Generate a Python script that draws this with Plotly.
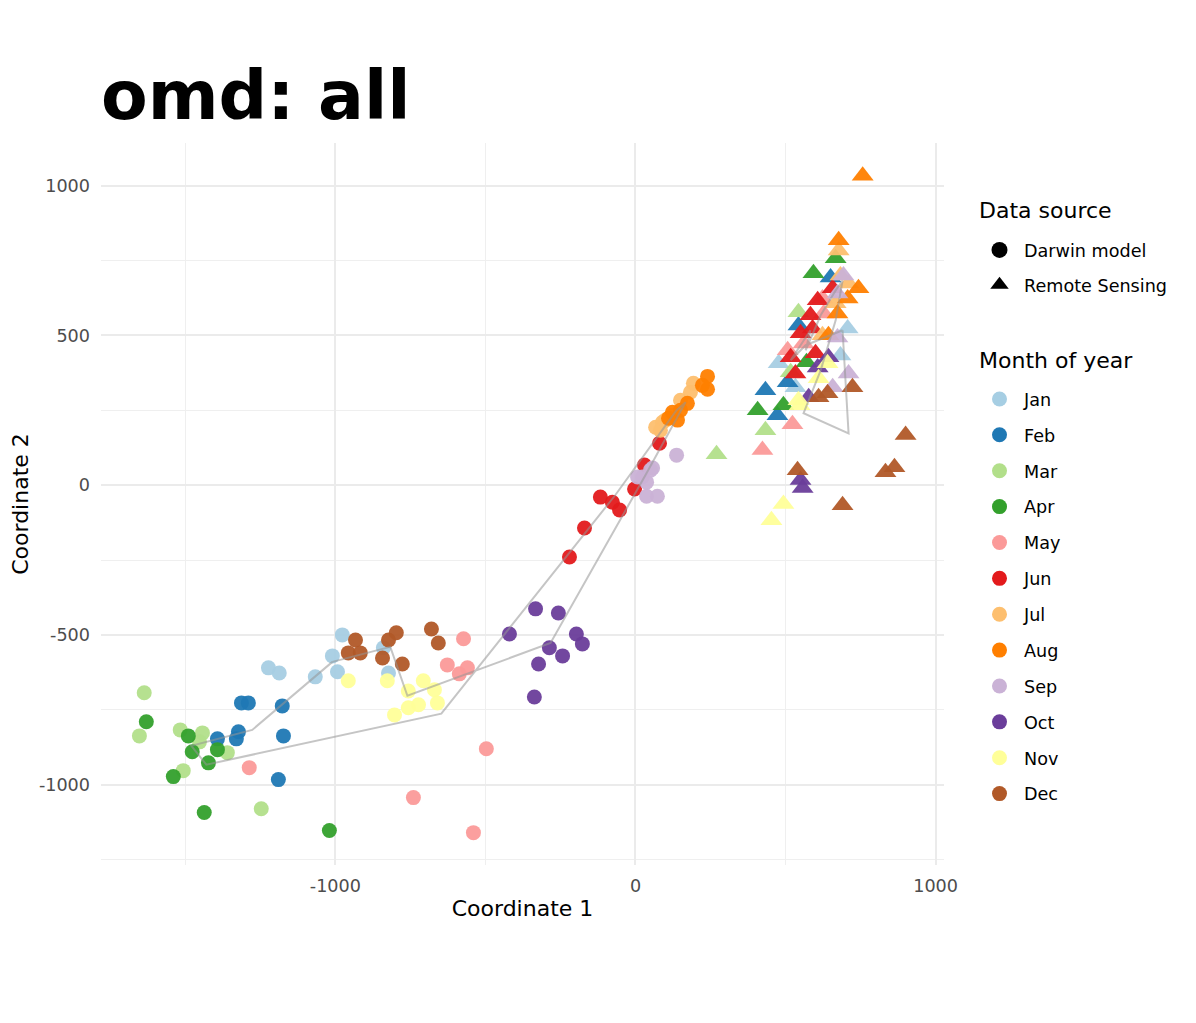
"""
omd: all -- ordination of Darwin model vs Remote Sensing by month
"""

import plotly.graph_objects as go

# Month levels and palette (ColorBrewer Paired)
MONTHS = ['Jan', 'Feb', 'Mar', 'Apr', 'May', 'Jun',
          'Jul', 'Aug', 'Sep', 'Oct', 'Nov', 'Dec']
MONTH_COLORS = ['#A6CEE3', '#1F78B4', '#B2DF8A', '#33A02C', '#FB9A99', '#E31A1C',
                '#FDBF6F', '#FF7F00', '#CAB2D6', '#6A3D9A', '#FFFF99', '#B15928']

# Darwin model points (circles)
darwin_month = (['Jan'] * 8 + ['Feb'] * 8 + ['Mar'] * 8 + ['Apr'] * 8 + ['May'] * 8 + ['Jun'] * 8
                + ['Jul'] * 8 + ['Aug'] * 8 + ['Sep'] * 8 + ['Oct'] * 9 + ['Nov'] * 9 + ['Dec'] * 9)
darwin_x = [-1223, -1187, -1067, -1010, -993, -977, -840, -823,
            -1313, -1290, -1177, -1173, -1190, -1393, -1323, -1330,
            -1637, -1653, -1517, -1443, -1453, -1360, -1507, -1247,
            -1630, -1490, -1477, -1393, -1423, -1540, -1437, -1020,
            -1287, -740, -540, -497, -573, -627, -587, -560,
            -220, -170, -117, -77, -53, -3, 30, 80,
            67, 90, 83, 123, 150, 183, 193, 100,
            123, 140, 173, 240, 240, 223, 150, 110,
            23, 57, 37, 37, 73, 137, 7, 50,
            -420, -333, -257, -197, -177, -287, -243, -323, -337,
            -957, -827, -757, -707, -670, -660, -723, -757, -803,
            -933, -957, -917, -823, -797, -843, -777, -680, -657]
darwin_y = [-610, -627, -640, -570, -623, -500, -543, -627,
            -727, -727, -737, -837, -983, -847, -823, -847,
            -693, -837, -817, -827, -857, -893, -953, -1080,
            -790, -837, -890, -883, -927, -973, -1093, -1153,
            -943, -1043, -1160, -880, -513, -600, -630, -610,
            -240, -143, -40, -57, -83, -13, 67, 140,
            193, 210, 183, 233, 283, 310, 340, 217,
            243, 217, 273, 363, 320, 333, 250, 223,
            27, 57, 10, -37, -37, 100, 27, 50,
            -497, -413, -427, -497, -530, -543, -570, -597, -707,
            -653, -653, -687, -653, -683, -727, -733, -743, -767,
            -517, -560, -560, -517, -493, -577, -597, -480, -527]

# Remote Sensing points (triangles)
rs_month = (['Jan'] * 4 + ['Feb'] * 5 + ['Mar'] * 4 + ['Apr'] * 5 + ['May'] * 6 + ['Jun'] * 8
            + ['Jul'] * 5 + ['Aug'] * 6 + ['Sep'] * 5 + ['Oct'] * 5 + ['Nov'] * 6 + ['Dec'] * 8)
rs_x = [477, 707, 683, 533,
        433, 473, 650, 543, 507,
        433, 270, 543, 517,
        407, 493, 570, 593, 667,
        423, 523, 560, 627, 623, 507,
        607, 583, 590, 600, 533, 550, 657, 517,
        677, 683, 710, 623, 667,
        757, 677, 743, 707, 673, 643,
        693, 673, 673, 710, 657,
        607, 643, 577, 550, 557,
        547, 493, 453, 610, 640, 543,
        723, 610, 640, 900, 863, 833, 540, 690]
rs_y = [407, 523, 433, 327,
        317, 233, 693, 533, 343,
        183, 103, 577, 377,
        250, 267, 410, 707, 757,
        117, 203, 473, 573, 623, 450,
        617, 567, 523, 440, 373, 507, 657, 427,
        783, 700, 673, 500, 607,
        1033, 817, 657, 623, 573, 500,
        700, 640, 493, 373, 327,
        393, 427, 293, 17, -10,
        267, -63, -117, 357, 407, 283,
        327, 293, 307, 167, 60, 43, 50, -67]

# Monthly centroid paths (Jan..Dec, closed back to Jan)
darwin_path_x = [-1010, -1277, -1480, -1430, -647, -67, 137, 167, 33, -283, -760, -817, -1010]
darwin_path_y = [-590, -817, -870, -933, -763, -33, 250, 277, 33, -527, -703, -540, -590]
rs_path_x = [690, 567, 517, 583, 567, 617, 667, 690, 667, 617, 560, 710, 690]
rs_path_y = [517, 467, 417, 517, 450, 567, 650, 683, 550, 383, 240, 173, 517]

FONT = 'DejaVu Sans'
color_of = dict(zip(MONTHS, MONTH_COLORS))

fig = go.Figure()

# points
fig.add_trace(go.Scatter(
    x=darwin_x, y=darwin_y, mode='markers',
    marker=dict(symbol='circle', size=15, color=[color_of[m] for m in darwin_month],
                opacity=0.95, line=dict(width=0)),
    showlegend=False, hoverinfo='skip'
))
fig.add_trace(go.Scatter(
    x=rs_x, y=rs_y, mode='markers',
    marker=dict(symbol='triangle-up', size=19, color=[color_of[m] for m in rs_month],
                opacity=0.95, line=dict(width=0)),
    showlegend=False, hoverinfo='skip'
))

# paths on top
for px, py in [(darwin_path_x, darwin_path_y), (rs_path_x, rs_path_y)]:
    fig.add_trace(go.Scatter(
        x=px, y=py, mode='lines',
        line=dict(color='rgba(150,150,150,0.55)', width=2),
        showlegend=False, hoverinfo='skip'
    ))

# legend 1: data source
for name, sym in [('Darwin model', 'circle'), ('Remote Sensing', 'triangle-up')]:
    fig.add_trace(go.Scatter(
        x=[None], y=[None], mode='markers', name=name,
        marker=dict(symbol=sym, size=16, color='black'),
        legend='legend', legendgroup=name
    ))

# legend 2: month
for m, c in zip(MONTHS, MONTH_COLORS):
    fig.add_trace(go.Scatter(
        x=[None], y=[None], mode='markers', name=m,
        marker=dict(symbol='circle', size=15, color=c),
        legend='legend2', legendgroup=m
    ))

# page body has an 8px margin, so the figure is drawn 8px smaller and offset
OFF = 8
W, H = 1196 - OFF, 1023 - OFF
# plot area in screen px
L, R, T, B = 101, 944, 143, 865
def px_x(p):
    return (p - L) / (R - L)
def px_y(p):
    return (B - p) / (B - T)

fig.update_layout(
    width=W, height=H,
    margin=dict(l=L - OFF, r=W - (R - OFF), t=T - OFF, b=H - (B - OFF), autoexpand=False),
    plot_bgcolor='white', paper_bgcolor='white',
    font=dict(family=FONT, color='black'),
    title=dict(text='omd: all', font=dict(family=FONT, size=68, weight='bold', color='black'),
               xref='paper', x=0, xanchor='left',
               yref='container', y=1 - (95 - OFF) / H, yanchor='middle'),
    legend=dict(
        font=dict(size=17.6), x=px_x(975), xanchor='left', y=px_y(232), yanchor='top',
        tracegroupgap=9, itemwidth=39, bgcolor='rgba(0,0,0,0)'
    ),
    legend2=dict(
        font=dict(size=17.6), x=px_x(975), xanchor='left', y=px_y(381), yanchor='top',
        tracegroupgap=10, itemwidth=39, bgcolor='rgba(0,0,0,0)'
    ),
    annotations=[
        dict(text='Data source', xref='paper', yref='paper', x=px_x(977), y=px_y(210),
             xanchor='left', yanchor='middle', showarrow=False, font=dict(size=22)),
        dict(text='Month of year', xref='paper', yref='paper', x=px_x(977), y=px_y(360),
             xanchor='left', yanchor='middle', showarrow=False, font=dict(size=22)),
    ],
)

fig.update_xaxes(
    range=[-1781, 1028],
    tickvals=[-1000, 0, 1000], ticktext=['-1000', '0', '1000'],
    showgrid=True, gridcolor='#EBEBEB', gridwidth=2,
    minor=dict(tickvals=[-1500, -500, 500], showgrid=True, gridcolor='#EFEFEF', gridwidth=1),
    zeroline=False, showline=False, ticks='', automargin=False,
    tickfont=dict(size=17.6, color='#4D4D4D'), ticklabelstandoff=8,
    title=dict(text='Coordinate 1', font=dict(size=22, color='black'), standoff=6),
)
fig.update_yaxes(
    range=[-1268, 1142],
    tickvals=[-1000, -500, 0, 500, 1000], ticktext=['-1000', '-500', '0', '500', '1000'],
    showgrid=True, gridcolor='#EBEBEB', gridwidth=2,
    minor=dict(tickvals=[-1250, -750, -250, 250, 750], showgrid=True, gridcolor='#EFEFEF', gridwidth=1),
    zeroline=False, showline=False, ticks='', automargin=False,
    tickfont=dict(size=17.6, color='#4D4D4D'), ticklabelstandoff=10,
    title=dict(text='Coordinate 2', font=dict(size=22, color='black'), standoff=6),
)

fig.write_html("out.html")
